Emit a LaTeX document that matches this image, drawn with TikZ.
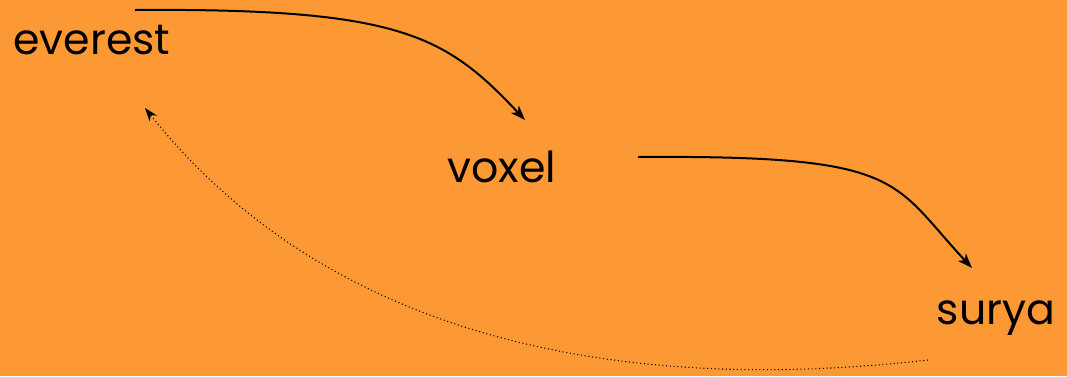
\documentclass[tikz,border=0pt]{standalone}
\usepackage{fontspec}
\setmainfont{Poppins}
\usetikzlibrary{arrows.meta}

\definecolor{bgorange}{RGB}{253,153,52}

\begin{document}
\begin{tikzpicture}[x=0.75pt, y=-0.75pt,
    every node/.style={font=\fontsize{32}{36}\selectfont, text=black},
    link/.style={line width=1.5pt, -{Stealth[length=11pt, width=8pt, inset=3pt]}},
    back/.style={line width=0.8pt, dotted, -{Stealth[length=10pt, width=7pt, inset=3pt]}}]

      \useasboundingbox (0,0) rectangle (1067,376);
      \fill[bgorange] (0,0) rectangle (1067,376);

      \node (everest) at (92,40) {everest};
      \node (voxel) at (502,167) {voxel};
      \node (surya) at (996,318) {surya};

      \coordinate (e1) at (135,10);
      \coordinate (v1) at (525,120);
      \coordinate (v2) at (638,157);
      \coordinate (s1) at (972,268);
      \coordinate (s2) at (928,360);
      \coordinate (e2) at (145,108);

      \draw[link] (e1) .. controls (400,8) and (445,35) .. (v1);
      \draw[link] (v2) .. controls (905,155) and (890,180) .. (s1);
      \draw[back] (s2) .. controls (620,395) and (330,340) .. (e2);

    \end{tikzpicture}
\end{document}
